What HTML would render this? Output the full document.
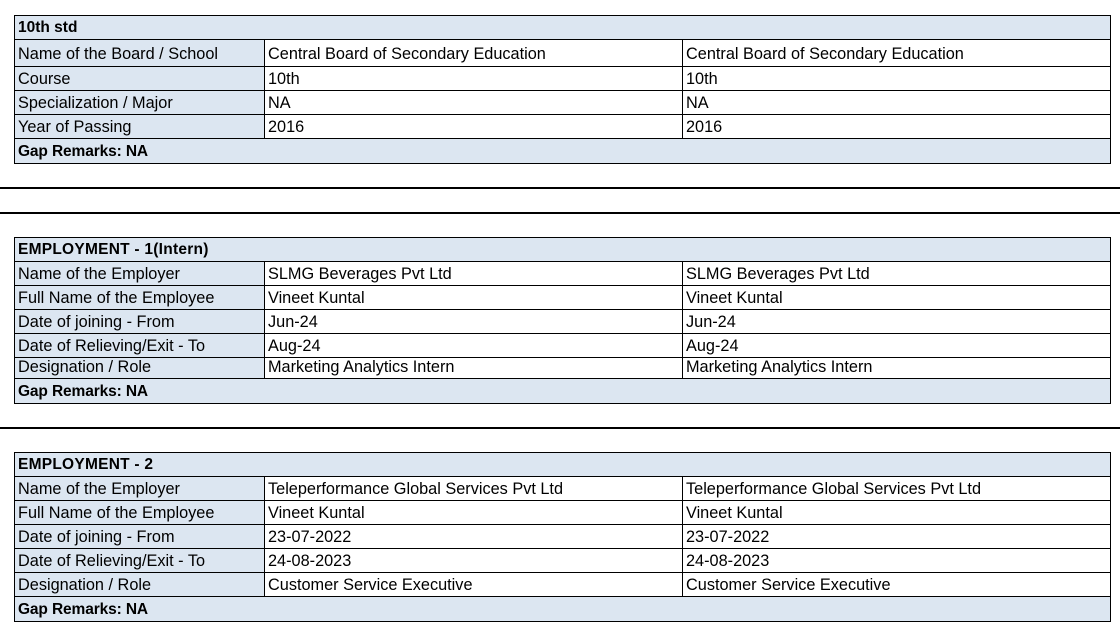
<!DOCTYPE html>
<html><head><meta charset="utf-8"><style>
*{margin:0;padding:0;box-sizing:border-box}
html,body{width:1120px;height:637px;background:#fff;overflow:hidden}
#c{position:relative;width:1120px;height:637px;font-family:"Liberation Sans",Arial,sans-serif;color:#000}
.f{position:absolute}
.b{background:#dce6f1}
.w{background:#fff}
.k{position:absolute;background:#000}
.t{position:absolute;font-size:16.3px;line-height:20px;white-space:nowrap}
.tb{position:absolute;font-size:15.5px;line-height:20px;font-weight:bold;white-space:nowrap}
.em{letter-spacing:0.25px}
.gp{letter-spacing:-0.12px}
</style></head><body><div id="c">

<!-- Section 1 -->
<div class="f b" style="left:14px;top:15px;width:1097px;height:149px"></div>
<div class="f w" style="left:264px;top:39px;width:846px;height:99px"></div>
<div class="k" style="left:14px;top:15px;width:1097px;height:1px"></div>
<div class="k" style="left:14px;top:39px;width:1097px;height:1px"></div>
<div class="k" style="left:14px;top:66px;width:1097px;height:1px"></div>
<div class="k" style="left:14px;top:90px;width:1097px;height:1px"></div>
<div class="k" style="left:14px;top:114px;width:1097px;height:1px"></div>
<div class="k" style="left:14px;top:138px;width:1097px;height:1px"></div>
<div class="k" style="left:14px;top:163px;width:1097px;height:1px"></div>
<div class="k" style="left:14px;top:15px;width:1px;height:149px"></div>
<div class="k" style="left:1110px;top:15px;width:1px;height:149px"></div>
<div class="k" style="left:264px;top:39px;width:1px;height:100px"></div>
<div class="k" style="left:682px;top:39px;width:1px;height:100px"></div>
<div class="tb" style="left:18px;top:18px">10th std</div>
<div class="t" style="left:18px;top:44px">Name of the Board / School</div>
<div class="t" style="left:268px;top:44px">Central Board of Secondary Education</div>
<div class="t" style="left:686px;top:44px">Central Board of Secondary Education</div>
<div class="t" style="left:18px;top:69px">Course</div>
<div class="t" style="left:268px;top:69px">10th</div>
<div class="t" style="left:686px;top:69px">10th</div>
<div class="t" style="left:18px;top:93px">Specialization / Major</div>
<div class="t" style="left:268px;top:93px">NA</div>
<div class="t" style="left:686px;top:93px">NA</div>
<div class="t" style="left:18px;top:117px">Year of Passing</div>
<div class="t" style="left:268px;top:117px">2016</div>
<div class="t" style="left:686px;top:117px">2016</div>
<div class="tb gp" style="left:18px;top:142px">Gap Remarks: NA</div>

<!-- separators -->
<div class="k" style="left:0;top:187px;width:1120px;height:2px"></div>
<div class="k" style="left:0;top:212px;width:1120px;height:2px"></div>

<!-- Section 2 -->
<div class="f b" style="left:14px;top:237px;width:1097px;height:167px"></div>
<div class="f w" style="left:264px;top:261px;width:846px;height:117px"></div>
<div class="k" style="left:14px;top:237px;width:1097px;height:1px"></div>
<div class="k" style="left:14px;top:261px;width:1097px;height:1px"></div>
<div class="k" style="left:14px;top:285px;width:1097px;height:1px"></div>
<div class="k" style="left:14px;top:309px;width:1097px;height:1px"></div>
<div class="k" style="left:14px;top:333px;width:1097px;height:1px"></div>
<div class="k" style="left:14px;top:357px;width:1097px;height:1px"></div>
<div class="k" style="left:14px;top:378px;width:1097px;height:1px"></div>
<div class="k" style="left:14px;top:403px;width:1097px;height:1px"></div>
<div class="k" style="left:14px;top:237px;width:1px;height:167px"></div>
<div class="k" style="left:1110px;top:237px;width:1px;height:167px"></div>
<div class="k" style="left:264px;top:261px;width:1px;height:118px"></div>
<div class="k" style="left:682px;top:261px;width:1px;height:118px"></div>
<div class="tb em" style="left:18px;top:240px">EMPLOYMENT - 1(Intern)</div>
<div class="t" style="left:18px;top:264px">Name of the Employer</div>
<div class="t" style="left:268px;top:264px">SLMG Beverages Pvt Ltd</div>
<div class="t" style="left:686px;top:264px">SLMG Beverages Pvt Ltd</div>
<div class="t" style="left:18px;top:288px">Full Name of the Employee</div>
<div class="t" style="left:268px;top:288px">Vineet Kuntal</div>
<div class="t" style="left:686px;top:288px">Vineet Kuntal</div>
<div class="t" style="left:18px;top:312px">Date of joining - From</div>
<div class="t" style="left:268px;top:312px">Jun-24</div>
<div class="t" style="left:686px;top:312px">Jun-24</div>
<div class="t" style="left:18px;top:336px">Date of Relieving/Exit - To</div>
<div class="t" style="left:268px;top:336px">Aug-24</div>
<div class="t" style="left:686px;top:336px">Aug-24</div>
<div class="t" style="left:18px;top:357px">Designation / Role</div>
<div class="t" style="left:268px;top:357px">Marketing Analytics Intern</div>
<div class="t" style="left:686px;top:357px">Marketing Analytics Intern</div>
<div class="tb gp" style="left:18px;top:382px">Gap Remarks: NA</div>

<div class="k" style="left:0;top:427px;width:1120px;height:2px"></div>

<!-- Section 3 -->
<div class="f b" style="left:14px;top:452px;width:1097px;height:170px"></div>
<div class="f w" style="left:264px;top:476px;width:846px;height:120px"></div>
<div class="k" style="left:14px;top:452px;width:1097px;height:1px"></div>
<div class="k" style="left:14px;top:476px;width:1097px;height:1px"></div>
<div class="k" style="left:14px;top:500px;width:1097px;height:1px"></div>
<div class="k" style="left:14px;top:524px;width:1097px;height:1px"></div>
<div class="k" style="left:14px;top:548px;width:1097px;height:1px"></div>
<div class="k" style="left:14px;top:572px;width:1097px;height:1px"></div>
<div class="k" style="left:14px;top:596px;width:1097px;height:1px"></div>
<div class="k" style="left:14px;top:621px;width:1097px;height:1px"></div>
<div class="k" style="left:14px;top:452px;width:1px;height:170px"></div>
<div class="k" style="left:1110px;top:452px;width:1px;height:170px"></div>
<div class="k" style="left:264px;top:476px;width:1px;height:121px"></div>
<div class="k" style="left:682px;top:476px;width:1px;height:121px"></div>
<div class="tb em" style="left:18px;top:455px">EMPLOYMENT - 2</div>
<div class="t" style="left:18px;top:479px">Name of the Employer</div>
<div class="t" style="left:268px;top:479px">Teleperformance Global Services Pvt Ltd</div>
<div class="t" style="left:686px;top:479px">Teleperformance Global Services Pvt Ltd</div>
<div class="t" style="left:18px;top:503px">Full Name of the Employee</div>
<div class="t" style="left:268px;top:503px">Vineet Kuntal</div>
<div class="t" style="left:686px;top:503px">Vineet Kuntal</div>
<div class="t" style="left:18px;top:527px">Date of joining - From</div>
<div class="t" style="left:268px;top:527px">23-07-2022</div>
<div class="t" style="left:686px;top:527px">23-07-2022</div>
<div class="t" style="left:18px;top:551px">Date of Relieving/Exit - To</div>
<div class="t" style="left:268px;top:551px">24-08-2023</div>
<div class="t" style="left:686px;top:551px">24-08-2023</div>
<div class="t" style="left:18px;top:575px">Designation / Role</div>
<div class="t" style="left:268px;top:575px">Customer Service Executive</div>
<div class="t" style="left:686px;top:575px">Customer Service Executive</div>
<div class="tb gp" style="left:18px;top:600px">Gap Remarks: NA</div>

</div></body></html>
